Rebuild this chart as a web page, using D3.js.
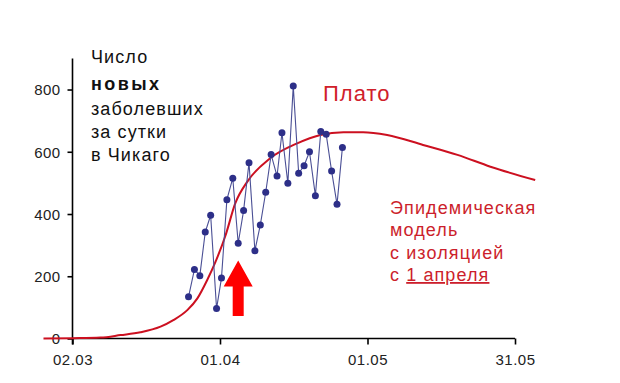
<!DOCTYPE html>
<html><head><meta charset="utf-8">
<script src="https://cdn.jsdelivr.net/npm/d3@7"></script>
<style>body{margin:0;background:#fff}svg{display:block}text{font-family:"Liberation Sans",Arial,sans-serif}</style>
</head><body><svg id="c" width="620" height="383"></svg>
<script>
// Days counted from 02.03
const xTickDays = [0, 30, 60, 90];
const xTickLabels = ["02.03", "01.04", "01.05", "31.05"];
const yTicks = [0, 200, 400, 600, 800];

// Observed daily new cases (blue points)
const obsDays = [23.6,24.8,25.9,27.0,28.1,29.3,30.3,31.4,32.6,33.7,34.8,35.9,37.1,38.2,39.3,40.4,41.6,42.6,43.8,44.9,46.0,47.1,48.2,49.4,50.5,51.6,52.7,53.8,54.9];
const obsValues = [134,222,202,342,396,96,194,446,515,306,411,565,282,365,470,591,522,661,499,811,531,555,600,459,665,656,538,431,614];

// Epidemic model curve (red)
const modelDays = [-5.9,0.2,5.7,9.8,13.8,17.9,20.5,23.4,25.4,27.4,29.1,31.1,33.1,35.6,40.2,45.7,50.4,55.1,59.1,64.0,71.3,78.3,85.0,94.1];
const modelValues = [0,1,3,11,20,38,59,92,129,188,247,330,434,505,579,627,654,663,663,654,622,590,552,509];

const arrowDay = 33.7;

const svg = d3.select("#c");
const x = d3.scaleLinear().domain([0, 90]).range([72.5, 515]);
const y = d3.scaleLinear().domain([0, 900]).range([338.5, 58.4]);

// axes
const yAxis = d3.axisLeft(y).tickValues(yTicks).tickSize(5).tickPadding(7);
const gy = svg.append("g").attr("transform", `translate(${x(0)},0)`).call(yAxis);
gy.select(".domain").attr("d", `M0,${y(900)}V${y(0)+6}`).attr("stroke","#000").attr("stroke-width",1.6);
gy.selectAll(".tick line").attr("stroke","#000").attr("stroke-width",1.6);
gy.selectAll(".tick text").attr("font-size",15).attr("letter-spacing",0.4).attr("fill","#222").attr("font-family","Liberation Sans, Arial, sans-serif").attr("dy","0.36em");

const xAxis = d3.axisBottom(x).tickValues(xTickDays).tickFormat((d,i)=>xTickLabels[i]).tickSize(6).tickPadding(10);
const gx = svg.append("g").attr("transform", `translate(0,${y(0)})`).call(xAxis);
gx.select(".domain").attr("d", `M${x(0)},0H${x(90)}`).attr("stroke","#000").attr("stroke-width",1.6);
gx.selectAll(".tick line").attr("stroke","#000").attr("stroke-width",1.6);
gx.selectAll(".tick text").attr("font-size",15).attr("letter-spacing",0.5).attr("fill","#222").attr("font-family","Liberation Sans, Arial, sans-serif");

// model curve
const model = modelDays.map((d,i)=>[d, modelValues[i]]);
svg.append("path").datum(model)
  .attr("d", d3.line().x(d=>x(d[0])).y(d=>y(d[1])).curve(d3.curveMonotoneX))
  .attr("fill","none").attr("stroke","#cc1020").attr("stroke-width",2);

// observed
const obs = obsDays.map((d,i)=>[d, obsValues[i]]);
svg.append("path").datum(obs)
  .attr("d", d3.line().x(d=>x(d[0])).y(d=>y(d[1])))
  .attr("fill","none").attr("stroke","#4a4f95").attr("stroke-width",1.1);
svg.selectAll("circle.o").data(obs).enter().append("circle")
  .attr("cx",d=>x(d[0])).attr("cy",d=>y(d[1])).attr("r",3.5).attr("fill","#2d2f88");

// arrow
const ax = x(arrowDay);
const aTop = y(251), aBase = y(167), aBot = y(72);
svg.append("path")
  .attr("d", `M${ax},${aTop}L${ax+14.5},${aBase}L${ax+5.5},${aBase}L${ax+5.5},${aBot}L${ax-5.5},${aBot}L${ax-5.5},${aBase}L${ax-14.5},${aBase}Z`)
  .attr("fill","#ff0000");

// labels
const left = svg.append("g").attr("fill","#111").attr("font-size",18).attr("letter-spacing",1.1);
[["Число",63,"normal",1.1],["новых",90,"bold",2.4],["заболевших",115,"normal",1.1],["за сутки",138,"normal",1.1],["в Чикаго",161,"normal",1.1]]
  .forEach(([t,yy,w,ls])=>left.append("text").attr("x",91).attr("y",yy).attr("font-weight",w).attr("letter-spacing",ls).text(t));

svg.append("text").attr("x",323).attr("y",100.5).attr("font-size",22).attr("letter-spacing",1).attr("fill","#d0202a").text("Плато");

const red = svg.append("g").attr("fill","#cc1f2c").attr("font-size",18).attr("letter-spacing",1.1);
red.append("text").attr("x",390).attr("y",213.5).text("Эпидемическая");
red.append("text").attr("x",390).attr("y",236).text("модель");
red.append("text").attr("x",390).attr("y",258.5).text("с изоляцией");
const l4 = red.append("text").attr("x",390).attr("y",281);
l4.append("tspan").text("с ");
l4.append("tspan").attr("text-decoration","underline").text("1 апреля");
</script></body></html>
